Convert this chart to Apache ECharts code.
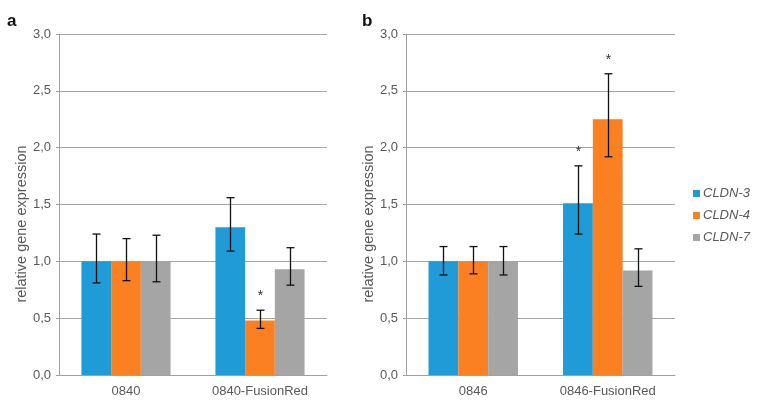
<!DOCTYPE html>
<html>
<head>
<meta charset="utf-8">
<script src="https://cdn.jsdelivr.net/npm/echarts@6/dist/echarts.min.js"></script>
<style>
  html, body { margin: 0; padding: 0; background: #fff; }
  #chart { width: 760px; height: 404px; }
</style>
</head>
<body>
<div id="chart"></div>
<script>
// ---- 数据 ----
const genes = ['CLDN-3', 'CLDN-4', 'CLDN-7'];
const geneColors = ['#1f9bd7', '#fa8022', '#a5a5a5'];

// 面板 a
const catsA = ['0840', '0840-FusionRed'];
const meanA = [[1.0, 1.30], [1.0, 0.48], [1.0, 0.93]];
const errHiA = [[1.24, 1.56], [1.20, 0.57], [1.23, 1.12]];
const errLoA = [[0.81, 1.09], [0.83, 0.41], [0.82, 0.79]];
const starA = [[0, 0], [0, 1], [0, 0]];

// 面板 b
const catsB = ['0846', '0846-FusionRed'];
const meanB = [[1.0, 1.51], [1.0, 2.25], [1.0, 0.92]];
const errHiB = [[1.13, 1.84], [1.13, 2.65], [1.13, 1.11]];
const errLoB = [[0.88, 1.24], [0.89, 1.92], [0.88, 0.78]];
const starB = [[0, 1], [0, 1], [0, 0]];

const yTicks = { min: 0, max: 3, interval: 0.5 };

const FONT = 'Liberation Sans, Arial, sans-serif';
const GRAY_TXT = '#595959';
const CAT_GAP = 0.335;

// ---- 坐标轴 ----
function xAxisOf(cats, gi) {
  return {
    type: 'category', gridIndex: gi, data: cats,
    axisLine: { lineStyle: { color: '#a0a0a0', width: 1 } },
    axisTick: { show: false },
    axisLabel: { color: GRAY_TXT, fontSize: 13, fontFamily: FONT, margin: 10 }
  };
}
function yAxisOf(gi) {
  return {
    type: 'value', gridIndex: gi, min: yTicks.min, max: yTicks.max, interval: yTicks.interval,
    name: 'relative gene expression', nameLocation: 'middle', nameGap: 30,
    // 标题在 Excel 里略偏下，用右侧 padding 把它往下推
    nameTextStyle: { color: GRAY_TXT, fontSize: 14.5, fontFamily: FONT, padding: [0, 39, 0, 0] },
    axisLine: { show: true, lineStyle: { color: '#a0a0a0', width: 1 } },
    axisTick: { show: true, length: 3, lineStyle: { color: '#a0a0a0' } },
    axisLabel: { color: GRAY_TXT, fontSize: 13, fontFamily: FONT, margin: 8,
      formatter: (v) => v.toFixed(1).replace('.', ',') },
    splitLine: { lineStyle: { color: '#a6a6a6', width: 1 } }
  };
}

// ---- 误差线 + 显著性星号 ----
function errSeries(gi, k, lo, hi, stars) {
  const data = lo[k].map((l, i) => [i, l, hi[k][i], stars[k][i]]);
  return {
    type: 'custom', xAxisIndex: gi, yAxisIndex: gi, z: 5, silent: true,
    encode: { x: 0, y: [1, 2] },
    data,
    renderItem(params, api) {
      const cat = api.value(0);
      const band = api.size([1, 0])[0];
      const barW = band * (1 - CAT_GAP) / 3;
      const x = Math.round(api.coord([cat, 0])[0] + (k - 1) * barW) + 0.5;
      const yHi = api.coord([cat, api.value(2)])[1];
      const yLo = api.coord([cat, api.value(1)])[1];
      const st = { stroke: '#111', lineWidth: 1.3 };
      const children = [
        { type: 'line', shape: { x1: x, y1: yHi, x2: x, y2: yLo }, style: st },
        { type: 'line', shape: { x1: x - 4, y1: yHi, x2: x + 4, y2: yHi }, style: st },
        { type: 'line', shape: { x1: x - 4, y1: yLo, x2: x + 4, y2: yLo }, style: st }
      ];
      if (api.value(3)) {
        children.push({ type: 'text', x: x, y: yHi - 14,
          style: { text: '*', fill: '#333', font: '14px ' + FONT, align: 'center', verticalAlign: 'middle' } });
      }
      return { type: 'group', children };
    }
  };
}

const series = [];
[[meanA, errLoA, errHiA, starA], [meanB, errLoB, errHiB, starB]].forEach(([mean, lo, hi, stars], gi) => {
  genes.forEach((g, k) => {
    series.push({
      name: g, type: 'bar', xAxisIndex: gi, yAxisIndex: gi,
      data: mean[k], barGap: '0%', barCategoryGap: (CAT_GAP * 100) + '%',
      itemStyle: { color: geneColors[k] }
    });
  });
  genes.forEach((g, k) => series.push(errSeries(gi, k, lo, hi, stars)));
});

const chart = echarts.init(document.getElementById('chart'), null, { renderer: 'canvas' });
chart.setOption({
  animation: false,
  textStyle: { fontFamily: FONT },
  title: [
    { text: 'a', left: 2, top: 8, textStyle: { fontSize: 17, fontWeight: 'bold', color: '#111', fontFamily: FONT } },
    { text: 'b', left: 357, top: 8, textStyle: { fontSize: 17, fontWeight: 'bold', color: '#111', fontFamily: FONT } }
  ],
  legend: {
    data: genes, orient: 'vertical', left: 688, top: 182,
    itemWidth: 7, itemHeight: 7, itemGap: 9, icon: 'rect',
    textStyle: { fontSize: 13, fontStyle: 'italic', color: GRAY_TXT, fontFamily: FONT, padding: [0, 0, 0, -2] }
  },
  grid: [
    { left: 59, top: 34, width: 268, bottom: 29 },
    { left: 406, top: 34, width: 269, bottom: 29 }
  ],
  xAxis: [xAxisOf(catsA, 0), xAxisOf(catsB, 1)],
  yAxis: [yAxisOf(0), yAxisOf(1)],
  series
});
</script>
</body>
</html>
